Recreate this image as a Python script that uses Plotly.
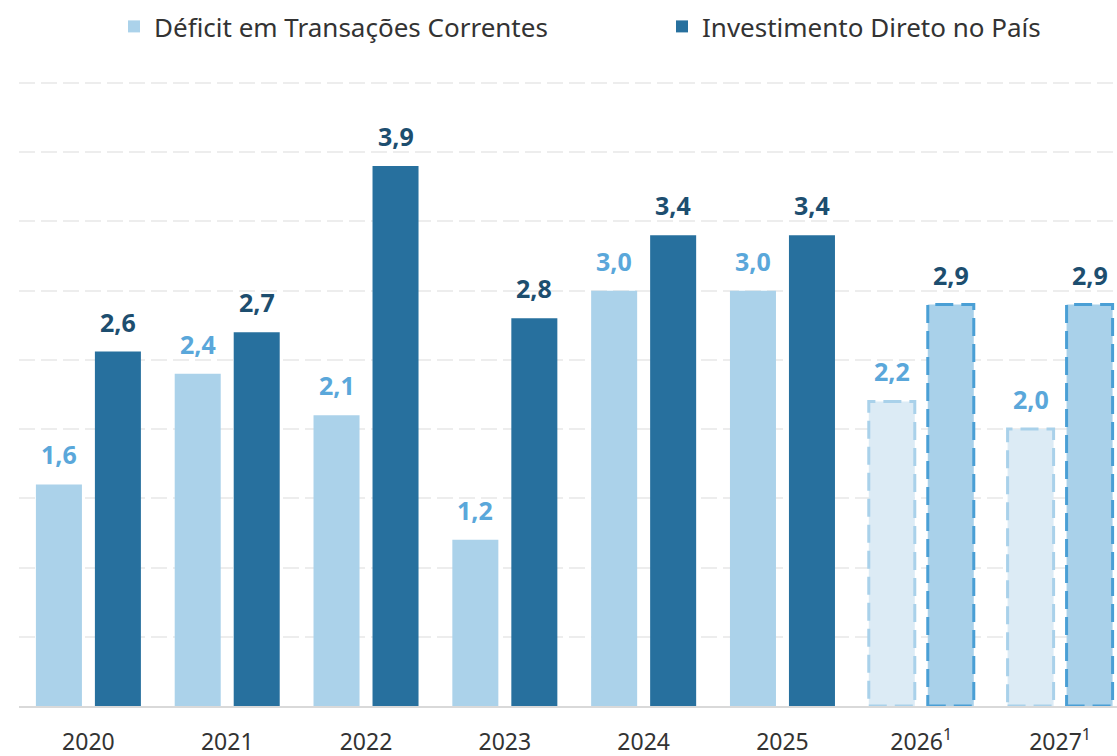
import plotly.graph_objects as go

years = ["2020", "2021", "2022", "2023", "2024", "2025", "2026<sup>1</sup>", "2027<sup>1</sup>"]
deficit = [1.6, 2.4, 2.1, 1.2, 3.0, 3.0, 2.2, 2.0]
investimento = [2.56, 2.7, 3.9, 2.8, 3.4, 3.4, 2.9, 2.9]
projected = [False, False, False, False, False, False, True, True]
series_names = ["Déficit em Transações Correntes", "Investimento Direto no País"]

C_DEF = "#ABD2EA"
C_INV = "#27709E"
C_DEF_PROJ = "#DCEBF5"
C_DEF_PROJ_LINE = "#A9D1EA"
C_INV_PROJ = "#A9D1EA"
C_INV_PROJ_LINE = "#4A9FD5"
C_DEF_LABEL = "#5AA7DA"
C_INV_LABEL = "#1D4E6F"

FONT = "Noto Sans"
BARGAP = 0.15
BARGROUPGAP = 0.22
W, H = 1117, 756
ML, MR, MT, MB = 19, 0, 80, 50
X_RANGE = [-0.5, 7.41]
Y_RANGE = [0, 4.5 * 626 / 623]

slot = (1 - BARGAP) / 2
bar_w = slot * (1 - BARGROUPGAP)
px_per_cat = (W - ML - MR) / (X_RANGE[1] - X_RANGE[0])

fig = go.Figure()
fig.add_trace(go.Bar(
    x=years, y=deficit, name=series_names[0],
    marker=dict(color=[C_DEF_PROJ if p else C_DEF for p in projected], line=dict(width=0)),
    hoverinfo="skip",
))
fig.add_trace(go.Bar(
    x=years, y=investimento, name=series_names[1],
    marker=dict(color=[C_INV_PROJ if p else C_INV for p in projected], line=dict(width=0)),
    hoverinfo="skip",
))

shapes = []
annotations = []
for i, yr in enumerate(years):
    for k, (vals, lab_col, line_col) in enumerate([
        (deficit, C_DEF_LABEL, C_DEF_PROJ_LINE),
        (investimento, C_INV_LABEL, C_INV_PROJ_LINE),
    ]):
        center = (-slot / 2) if k == 0 else (slot / 2)
        v = vals[i]
        if projected[i]:
            shapes.append(dict(
                type="rect", xref="x", yref="y",
                x0=i, x1=i, x0shift=center - bar_w / 2, x1shift=center + bar_w / 2,
                y0=0, y1=v,
                line=dict(color=line_col, width=3, dash="18px,8px"),
                fillcolor="rgba(0,0,0,0)", layer="above",
            ))
        annotations.append(dict(
            x=i, y=v, xref="x", yref="y",
            xshift=center * px_per_cat, yshift=11,
            text="<b>" + f"{v:.1f}".replace(".", ",") + "</b>",
            showarrow=False, yanchor="bottom",
            font=dict(family=FONT, size=25, color=lab_col),
        ))

fig.update_layout(
    width=W, height=H,
    margin=dict(l=ML, r=MR, t=MT, b=MB, pad=0, autoexpand=False),
    paper_bgcolor="white", plot_bgcolor="white",
    barmode="group", bargap=BARGAP, bargroupgap=BARGROUPGAP,
    font=dict(family=FONT, color="#333333"),
    separators=",.",
    showlegend=True,
    hovermode=False,
    legend=dict(
        orientation="h", xref="container", yref="container",
        x=114 / W, y=1 - 3 / H, xanchor="left", yanchor="top",
        font=dict(family=FONT, size=26, color="#333333"),
        entrywidth=503, entrywidthmode="pixels",
        traceorder="normal", itemclick=False,
    ),
    shapes=shapes,
    annotations=annotations,
    xaxis=dict(
        type="category", range=X_RANGE,
        showgrid=False, showline=True, linecolor="#D9D9D9", linewidth=2,
        ticks="", ticklabelstandoff=14, tickangle=0,
        tickfont=dict(family=FONT, size=23, color="#333333"),
        fixedrange=True,
    ),
    yaxis=dict(
        range=Y_RANGE, dtick=0.5, tick0=0,
        showgrid=True, gridcolor="#EDEDED", gridwidth=2, griddash="16px,6px",
        showticklabels=False, zeroline=False, showline=False,
        fixedrange=True,
    ),
)

fig.write_html(
    "out.html",
    config={"displayModeBar": False, "staticPlot": False},
    post_script="document.body.style.margin='0px'; document.body.style.overflow='hidden';",
)
